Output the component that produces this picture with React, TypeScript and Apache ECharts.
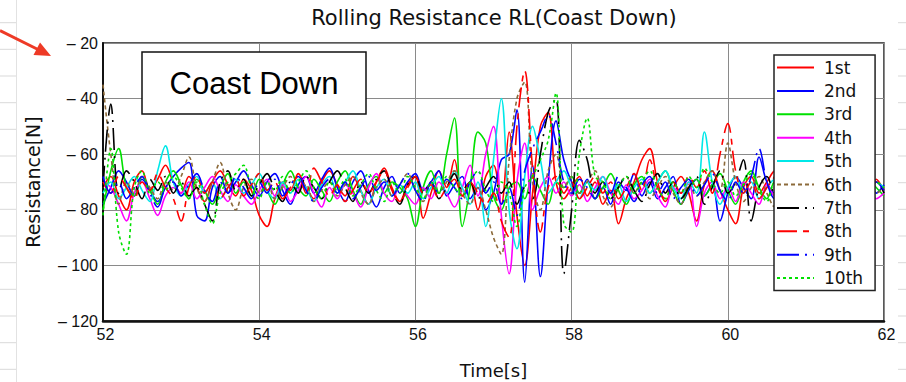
import React, { useEffect, useRef } from "react";
import * as echarts from "echarts";

const TIME = [
  52.0, 52.1, 52.2, 52.3, 52.4, 52.5, 52.6, 52.7, 52.8, 52.9,
  53.0, 53.1, 53.2, 53.3, 53.4, 53.5, 53.6, 53.7, 53.8, 53.9,
  54.0, 54.1, 54.2, 54.3, 54.4, 54.5, 54.6, 54.7, 54.8, 54.9,
  55.0, 55.1, 55.2, 55.3, 55.4, 55.5, 55.6, 55.7, 55.8, 55.9,
  56.0, 56.1, 56.2, 56.3, 56.4, 56.5, 56.6, 56.7, 56.8, 56.9,
  57.0, 57.1, 57.2, 57.3, 57.4, 57.5, 57.6, 57.7, 57.8, 57.9,
  58.0, 58.1, 58.2, 58.3, 58.4, 58.5, 58.6, 58.7, 58.8, 58.9,
  59.0, 59.1, 59.2, 59.3, 59.4, 59.5, 59.6, 59.7, 59.8, 59.9,
  60.0, 60.1, 60.2, 60.3, 60.4, 60.5, 60.6, 60.7, 60.8, 60.9,
  61.0, 61.1, 61.2, 61.3, 61.4, 61.5, 61.6, 61.7, 61.8, 61.9,
  62.0,
];

const RUN_1ST = [
  -72, -68, -75, -80, -70, -66, -73, -69, -64, -70,
  -74, -68, -72, -77, -70, -66, -71, -75, -69, -73,
  -82, -86, -76, -70, -73, -67, -72, -76, -70, -66,
  -71, -75, -68, -73, -78, -70, -65, -72, -77, -71,
  -68, -83, -74, -66, -72, -62, -75, -70, -80, -68,
  -64, -78, -52, -82, -100, -74, -50, -45, -70, -76,
  -72, -68, -75, -70, -78, -73, -85, -76, -70, -62,
  -58, -70, -77, -72, -68, -74, -84, -71, -66, -73,
  -80, -85, -72, -68, -74, -70, -66, -73, -69, -64,
  -70, -75, -68, -73, -78, -70, -66, -72, -76, -69,
  -73,
];
const RUN_2ND = [
  -78, -72, -66, -70, -75, -69, -73, -77, -72, -68,
  -65, -63, -82, -84, -72, -68, -74, -70, -66, -71,
  -75, -70, -67, -73, -78, -71, -68, -74, -69, -65,
  -72, -77, -70, -66, -73, -79, -72, -68, -74, -70,
  -67, -73, -70, -66, -75, -71, -68, -76, -72, -80,
  -74, -62, -60, -44, -106, -64, -104, -70, -48, -62,
  -70, -74, -69, -76, -72, -78, -70, -73, -67, -75,
  -70, -76, -72, -68, -78, -73, -69, -75, -71, -84,
  -74, -68, -72, -76, -61, -70, -74, -68, -72, -66,
  -71, -76, -69, -73, -67, -72, -77, -70, -68, -74,
  -71,
];
const RUN_3RD = [
  -80, -66, -58, -72, -75, -68, -73, -78, -70, -66,
  -71, -76, -69, -73, -78, -72, -67, -74, -70, -75,
  -69, -73, -78, -71, -66, -72, -75, -69, -73, -77,
  -70, -66, -73, -78, -71, -68, -74, -70, -72, -76,
  -86, -72, -66, -74, -60, -47, -86, -72, -52, -56,
  -75, -80, -72, -70, -76, -68, -73, -78, -70, -72,
  -68, -74, -70, -76, -72, -67, -73, -78, -71, -68,
  -74, -70, -66, -73, -78, -72, -69, -75, -71, -67,
  -73, -78, -70, -66, -72, -76, -70, -73, -68, -74,
  -70, -75, -71, -67, -73, -77, -70, -74, -69, -72,
  -75,
];
const RUN_4TH = [
  -70, -72, -78, -84, -74, -70, -76, -82, -75, -72,
  -74, -70, -76, -72, -68, -73, -77, -71, -75, -78,
  -73, -69, -75, -71, -77, -73, -68, -74, -79, -72,
  -76, -71, -74, -79, -72, -67, -74, -77, -71, -75,
  -78, -72, -76, -70, -74, -79, -72, -64, -75, -60,
  -50, -82, -103, -70, -56, -80, -72, -68, -74, -70,
  -75, -71, -77, -72, -68, -74, -78, -71, -76, -73,
  -69, -75, -79, -72, -74, -70, -86, -74, -70, -76,
  -72, -77, -70, -74, -78, -71, -75, -72, -68, -74,
  -78, -72, -76, -70, -74, -79, -72, -75, -71, -76,
  -74,
];
const RUN_5TH = [
  -74, -70, -76, -72, -68, -73, -77, -66, -57, -70,
  -75, -71, -68, -74, -70, -76, -72, -69, -74, -71,
  -67, -73, -76, -70, -74, -69, -72, -77, -71, -68,
  -74, -70, -66, -73, -78, -72, -69, -75, -71, -74,
  -70, -76, -72, -68, -74, -66, -72, -78, -70, -86,
  -62, -40, -80, -94, -68, -50, -62, -74, -70, -66,
  -72, -76, -70, -73, -68, -74, -71, -77, -72, -69,
  -74, -70, -66, -72, -76, -70, -74, -52, -70, -78,
  -72, -68, -74, -70, -76, -72, -69, -75, -71, -77,
  -73, -69, -75, -71, -67, -73, -78, -71, -74, -70,
  -72,
];
const RUN_6TH = [
  -35, -60, -78, -70, -74, -68, -72, -76, -70, -73,
  -68, -61, -72, -77, -70, -63, -74, -80, -72, -69,
  -74, -70, -76, -72, -68, -74, -71, -77, -73, -70,
  -75, -71, -68, -74, -78, -72, -69, -75, -71, -67,
  -73, -77, -70, -74, -70, -66, -74, -78, -72, -80,
  -90, -96, -62, -40, -34, -70, -80, -66, -60, -72,
  -68, -74, -70, -66, -75, -79, -72, -68, -74, -70,
  -76, -72, -68, -74, -78, -71, -75, -70, -66, -73,
  -56, -70, -77, -72, -68, -74, -79, -72, -75, -70,
  -74, -70, -76, -72, -68, -73, -77, -71, -69, -74,
  -72,
];
const RUN_7TH = [
  -72, -42, -74, -66, -70, -76, -69, -73, -68, -74,
  -70, -75, -72, -78, -84, -70, -66, -73, -69, -75,
  -71, -67, -73, -77, -70, -74, -68, -72, -76, -70,
  -66, -72, -77, -70, -74, -69, -66, -73, -78, -71,
  -68, -74, -70, -76, -72, -67, -73, -70, -76, -72,
  -68, -74, -70, -78, -72, -76, -60, -45, -40, -103,
  -80, -55, -62, -74, -70, -76, -72, -68, -73, -77,
  -71, -67, -74, -70, -76, -72, -68, -78, -72, -66,
  -74, -70, -62, -84, -72, -68, -74, -70, -76, -72,
  -68, -74, -70, -76, -72, -67, -73, -79, -71, -70,
  -74,
];
const RUN_8TH = [
  -70, -74, -68, -72, -76, -70, -73, -67, -72, -76,
  -84, -72, -68, -74, -70, -76, -72, -69, -75, -71,
  -67, -73, -70, -76, -72, -68, -74, -65, -70, -75,
  -71, -77, -73, -69, -74, -70, -66, -73, -77, -72,
  -68, -74, -71, -76, -72, -69, -75, -70, -74, -78,
  -74, -84, -90, -50, -30, -65, -88, -72, -68, -74,
  -70, -76, -72, -68, -74, -70, -76, -72, -67, -73,
  -62, -72, -76, -70, -74, -68, -72, -66, -74, -60,
  -49, -66, -74, -70, -76, -72, -68, -62, -74, -70,
  -75, -71, -68, -74, -70, -76, -72, -68, -73, -70,
  -72,
];
const RUN_9TH = [
  -68, -74, -70, -76, -72, -68, -74, -79, -72, -70,
  -75, -71, -67, -73, -77, -70, -74, -68, -72, -76,
  -70, -74, -69, -75, -71, -68, -73, -77, -72, -69,
  -74, -70, -76, -72, -68, -73, -70, -75, -71, -67,
  -73, -77, -70, -74, -69, -72, -76, -70, -66, -74,
  -70, -78, -72, -82, -66, -58, -52, -46, -56, -70,
  -74, -69, -72, -76, -70, -74, -68, -72, -77, -71,
  -68, -74, -70, -76, -72, -69, -75, -71, -67, -73,
  -77, -70, -74, -68, -58, -70, -76, -72, -68, -74,
  -70, -76, -72, -68, -74, -71, -67, -73, -77, -70,
  -73,
];
const RUN_10TH = [
  -82, -58, -88, -96, -72, -66, -74, -70, -73, -68,
  -72, -76, -70, -78, -85, -74, -70, -67, -64, -72,
  -76, -70, -73, -68, -74, -70, -66, -72, -76, -70,
  -73, -69, -75, -71, -67, -73, -77, -70, -74, -68,
  -72, -76, -70, -74, -68, -72, -75, -70, -66, -73,
  -77, -70, -74, -86, -72, -68, -62, -55, -38, -85,
  -88, -60, -47, -68, -70, -76, -72, -68, -74, -70,
  -66, -72, -76, -70, -74, -68, -72, -65, -70, -74,
  -70, -75, -71, -67, -73, -77, -70, -74, -68, -72,
  -76, -70, -73, -68, -74, -71, -67, -73, -77, -70,
  -72,
];

const RUN_NAMES = ["1st", "2nd", "3rd", "4th", "5th", "6th", "7th", "8th", "9th", "10th"];
const RUN_VALUES = [RUN_1ST, RUN_2ND, RUN_3RD, RUN_4TH, RUN_5TH, RUN_6TH, RUN_7TH, RUN_8TH, RUN_9TH, RUN_10TH];
const RUN_COLORS = ["#ff0000", "#0000ff", "#00e000", "#ff00ff", "#00e8e8", "#8c6a3a", "#000000", "#ff0000", "#0000ff", "#00e000"];
const RUN_DASH: any[] = ["solid", "solid", "solid", "solid", "solid", [4, 3], [22, 6, 2, 6], [20, 6, 6, 6], [22, 6, 2, 6], [3, 3]];

const X_TICKS = [52, 54, 56, 58, 60, 62];
const Y_TICKS = [-120, -100, -80, -60, -40, -20];

const NARROW = "'Liberation Sans Narrow', 'Arial Narrow', 'Liberation Sans', Arial, sans-serif";
const WIDE = "'DejaVu Sans', 'Noto Sans', sans-serif";

export default function App() {
  const ref = useRef<HTMLDivElement>(null);
  useEffect(() => {
    document.body.style.margin = "0";
    if (!ref.current) return;
    const chart = echarts.init(ref.current, undefined, { renderer: "svg" });

    const series = RUN_NAMES.map((name, k) => ({
      name,
      type: "line",
      symbol: "none",
      smooth: 0.35,
      clip: true,
      data: TIME.map((t, i) => [t, RUN_VALUES[k][i]]),
      lineStyle: { color: RUN_COLORS[k], width: 1.6, type: RUN_DASH[k] },
      itemStyle: { color: RUN_COLORS[k] },
      emphasis: { disabled: true },
    }));

    const rows = [22.7, 49.3, 76, 102.7, 129.3, 156, 182.7, 209.3, 236, 262.7, 289.3, 316, 342.7, 369.3];
    const sheet: any[] = [];
    rows.forEach((y) => {
      sheet.push({ type: "line", shape: { x1: 0, y1: y, x2: 16, y2: y }, style: { stroke: "#d9d9d9", lineWidth: 1 }, z: 0 });
      sheet.push({ type: "line", shape: { x1: 898, y1: y, x2: 906, y2: y }, style: { stroke: "#d9d9d9", lineWidth: 1 }, z: 0 });
    });
    sheet.push({ type: "line", shape: { x1: 16.5, y1: 0, x2: 16.5, y2: 382 }, style: { stroke: "#e2e2e2", lineWidth: 1 }, z: 0 });

    chart.setOption({
      animation: false,
      backgroundColor: "#ffffff",
      grid: {
        left: 103,
        top: 43,
        width: 781,
        height: 278,
        show: true,
        borderColor: "#222",
        borderWidth: 1.5,
        backgroundColor: "transparent",
        outerBoundsMode: "none",
        containLabel: false,
      },
      xAxis: {
        type: "value",
        min: X_TICKS[0],
        max: X_TICKS[X_TICKS.length - 1],
        interval: 2,
        name: "Time[s]",
        nameLocation: "middle",
        nameGap: 40,
        nameTextStyle: { fontFamily: WIDE, fontSize: 18, color: "#111" },
        axisLine: { show: true, lineStyle: { color: "#111", width: 2.5 } },
        axisTick: { show: false },
        axisLabel: { fontFamily: NARROW, fontSize: 16, color: "#111", margin: 5, padding: [0, 0, 0, 5] },
        splitLine: { show: true, lineStyle: { color: "#8a8a8a", width: 1 } },
      },
      yAxis: {
        type: "value",
        min: Y_TICKS[0],
        max: Y_TICKS[Y_TICKS.length - 1],
        interval: 20,
        name: "Resistance[N]",
        nameLocation: "middle",
        nameGap: 61,
        nameTextStyle: { fontFamily: WIDE, fontSize: 19, color: "#111" },
        axisLine: { show: true, lineStyle: { color: "#111", width: 2 } },
        axisTick: { show: false },
        axisLabel: {
          fontFamily: NARROW,
          fontSize: 16,
          color: "#111",
          margin: 5,
          formatter: (v: number) => "– " + String(-v),
        },
        splitLine: { show: true, lineStyle: { color: "#8a8a8a", width: 1 } },
      },
      legend: {
        show: true,
        orient: "vertical",
        left: 774,
        top: 55,
        padding: [4, 12, 4, 2],
        itemWidth: 37,
        itemHeight: 12,
        itemGap: 6.4,
        backgroundColor: "#ffffff",
        borderColor: "#222",
        borderWidth: 1.5,
        borderRadius: 0,
        selectedMode: false,
        itemStyle: { opacity: 0 },
        textStyle: { fontFamily: WIDE, fontSize: 17, color: "#111", padding: [0, 0, 0, 5] },
        data: RUN_NAMES,
        z: 10,
      },
      tooltip: { show: false },
      series,
      graphic: [
        ...sheet,
        {
          type: "text",
          x: 494,
          y: 18,
          style: {
            text: "Rolling Resistance RL(Coast Down)",
            fontFamily: WIDE,
            fontSize: 21,
            fill: "#111",
            textAlign: "center",
            textVerticalAlign: "middle",
          },
          z: 20,
        },
        {
          type: "rect",
          shape: { x: 142, y: 52, width: 224, height: 62 },
          style: { fill: "#ffffff", stroke: "#111", lineWidth: 1.5 },
          z: 20,
        },
        {
          type: "text",
          x: 254,
          y: 83,
          style: {
            text: "Coast Down",
            fontFamily: "'Liberation Sans', Arial, sans-serif",
            fontSize: 31,
            fill: "#000",
            textAlign: "center",
            textVerticalAlign: "middle",
          },
          z: 21,
        },
        {
          type: "line",
          shape: { x1: 0, y1: 30.5, x2: 38, y2: 49.5 },
          style: { stroke: "#ee3a26", lineWidth: 3 },
          z: 20,
        },
        {
          type: "polygon",
          shape: { points: [[51, 56], [33.5, 55], [40, 42.5]] },
          style: { fill: "#ee3a26" },
          z: 20,
        },
      ],
    });
    return () => chart.dispose();
  }, []);
  return <div ref={ref} style={{ position: "fixed", left: 0, top: 0, width: 906, height: 382 }} />;
}
